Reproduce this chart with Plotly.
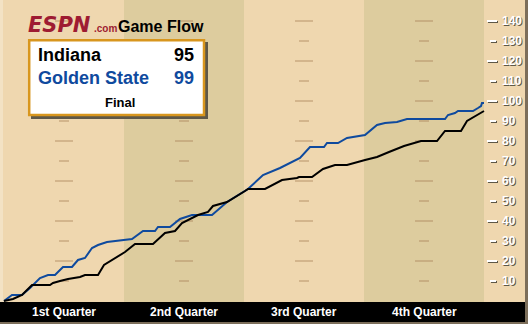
import plotly.graph_objects as go

# ---------------- data ----------------
quarters = ["1st Quarter", "2nd Quarter", "3rd Quarter", "4th Quarter"]
teams = ["Indiana", "Golden State"]
final_scores = [95, 99]
status = "Final"
y_ticks = [10, 20, 30, 40, 50, 60, 70, 80, 90, 100, 110, 120, 130, 140]

ind_min = [0, 0.9, 1.8, 2.8, 4.6, 4.9, 5.6, 6.4, 7.6, 8.1, 9.4, 10.0, 12.1, 13.1,
           14.9, 16.1, 17.1, 17.8, 19.4, 20.4, 20.9, 22.3, 24.1, 24.4, 26.1, 27.8,
           29.3, 29.5, 30.8, 31.9, 33.1, 34.3, 36.1, 37.3, 38.5, 40.0, 41.7, 43.3,
           44.1, 45.7, 46.3, 47.1, 48.0]
ind_pts = [0, 1, 3, 8, 8, 9, 10, 11, 12, 13, 13, 18, 24.5, 28.5,
           28.5, 34, 35, 39, 43, 44.5, 47.5, 49.5, 55, 56, 56, 60.5,
           61.5, 62, 62, 66, 68, 68, 70.5, 72, 74.5, 77.5, 80, 80,
           85, 85, 90, 92.5, 95]

gsw_min = [0, 0.8, 1.8, 2.6, 3.6, 4.4, 5.1, 5.9, 6.8, 7.4, 8.1, 8.8, 9.4, 10.3,
           12.8, 13.9, 15.1, 15.4, 16.6, 17.6, 18.8, 20.8, 22.3, 24.4, 25.9, 27.6,
           29.6, 30.6, 32.0, 32.3, 33.4, 34.3, 36.1, 37.3, 38.1, 39.3, 40.3, 44.1,
           44.4, 45.1, 45.4, 46.9, 47.4, 47.7, 47.8, 48.0]
gsw_pts = [0, 3, 3, 6.5, 11.5, 13, 13, 17, 17, 20.5, 21.5, 26.5, 28, 29.5,
           31, 35, 35, 37, 37, 41, 43, 43, 49.5, 56, 63, 66.5,
           71.5, 77, 77, 79, 79, 81.5, 83, 88, 89, 89.5, 91, 91,
           93, 94, 95, 95, 96.5, 97.5, 99, 99]

# ---------------- styling / geometry ----------------
W, H = 528, 324
LIGHT = "#EFD7AF"
DARK = "#DDCC9E"
TICKMARK = "rgba(165,125,85,0.38)"
BLUE = "#0F4A9E"
MAROON = "#9E1B32"
ORANGE = "#D8961E"
BORDER = "#7C6E5A"
SHADOW = "#5E5848"

X0_PX, PX_PER_MIN = 4, 10
Y0_PX, PX_PER_PT = 301, 2
x_range = [-X0_PX / PX_PER_MIN, (W - X0_PX) / PX_PER_MIN]
y_range = [-(H - Y0_PX) / PX_PER_PT, Y0_PX / PX_PER_PT]


def px(x):
    return x / W


def py(y):
    return 1 - y / H


FONT = "Liberation Sans, Arial, sans-serif"

fig = go.Figure()
fig.add_trace(go.Scatter(x=gsw_min, y=gsw_pts, mode="lines",
                         line=dict(color=BLUE, width=2), hoverinfo="skip",
                         name=teams[1]))
fig.add_trace(go.Scatter(x=ind_min, y=ind_pts, mode="lines",
                         line=dict(color="#000000", width=2), hoverinfo="skip",
                         name=teams[0]))

shapes = []
# darker quarter bands (2nd, 4th)
for q in range(4):
    if q % 2 == 1:
        shapes.append(dict(type="rect", xref="x", yref="paper",
                           x0=q * 12, x1=(q + 1) * 12, y0=py(302), y1=1,
                           fillcolor=DARK, line_width=0, layer="below"))
# thin lighter strip at left edge
shapes.append(dict(type="rect", xref="paper", yref="paper", x0=0, x1=px(3),
                   y0=py(302), y1=1, fillcolor="#F3E2C4", line_width=0, layer="below"))
# in-plot tick dashes at quarter centers
for q in range(4):
    cx = q * 12 + 6
    for v in y_ticks:
        half = 0.9 if v % 20 == 0 else 0.5
        shapes.append(dict(type="rect", xref="x", yref="y",
                           x0=cx - half, x1=cx + half, y0=v - 0.5, y1=v + 0.5,
                           fillcolor=TICKMARK, line_width=0, layer="below"))
# right axis dashes (shadow + white)
for v in y_ticks:
    x0, x1 = (487, 497) if v % 20 == 0 else (490, 496)
    shapes.append(dict(type="rect", xref="paper", yref="y",
                       x0=px(x0 + 1), x1=px(x1 + 1), y0=v - 1.0, y1=v,
                       fillcolor=SHADOW, line_width=0))
    shapes.append(dict(type="rect", xref="paper", yref="y",
                       x0=px(x0), x1=px(x1), y0=v - 0.5, y1=v + 0.5,
                       fillcolor="white", line_width=0))
# black bottom bar and frame
shapes.append(dict(type="rect", xref="paper", yref="paper", x0=0, x1=px(525),
                   y0=py(322), y1=py(302), fillcolor="#000000", line_width=0))
shapes.append(dict(type="rect", xref="paper", yref="paper", x0=px(525), x1=1,
                   y0=0, y1=1, fillcolor=BORDER, line_width=0))
shapes.append(dict(type="rect", xref="paper", yref="paper", x0=0, x1=1,
                   y0=0, y1=py(322), fillcolor=BORDER, line_width=0))
# score box shadow + box
shapes.append(dict(type="rect", xref="paper", yref="paper", x0=px(31), x1=px(208),
                   y0=py(119), y1=py(42), fillcolor=SHADOW, line_width=0))
shapes.append(dict(type="rect", xref="paper", yref="paper", x0=px(29.2), x1=px(204),
                   y0=py(115), y1=py(40.2), fillcolor="white",
                   line=dict(color=ORANGE, width=2.5)))

ann = []
# logo
ann.append(dict(text="ESPN", x=px(27), y=py(24.5), xanchor="left", yanchor="middle",
                font=dict(family="DejaVu Sans", size=21, color=MAROON, weight="bold",
                          style="italic")))
ann.append(dict(text=".com", x=px(93), y=py(28.5), xanchor="left", yanchor="middle",
                font=dict(family=FONT, size=10, color=MAROON, weight="bold")))
ann.append(dict(text="Game Flow", x=px(117), y=py(26.5), xanchor="left", yanchor="middle",
                font=dict(family=FONT, size=16, color="#000000", weight="bold")))
# score box texts
ann.append(dict(text=teams[0], x=px(37), y=py(55.5), xanchor="left", yanchor="middle",
                font=dict(family=FONT, size=18, color="#000000", weight="bold")))
ann.append(dict(text=str(final_scores[0]), x=px(195), y=py(55.5), xanchor="right",
                yanchor="middle",
                font=dict(family=FONT, size=18, color="#000000", weight="bold")))
ann.append(dict(text=teams[1], x=px(37), y=py(78), xanchor="left", yanchor="middle",
                font=dict(family=FONT, size=18, color=BLUE, weight="bold")))
ann.append(dict(text=str(final_scores[1]), x=px(195), y=py(78), xanchor="right",
                yanchor="middle",
                font=dict(family=FONT, size=18, color=BLUE, weight="bold")))
ann.append(dict(text=status, x=px(120), y=py(102), xanchor="center", yanchor="middle",
                font=dict(family=FONT, size=13, color="#000000", weight="bold")))
# quarter labels
for q, lab in enumerate(quarters):
    ann.append(dict(text=lab, x=q * 12 + 6, xref="x", y=py(312), yref="paper",
                    xanchor="center", yanchor="middle",
                    font=dict(family=FONT, size=12, color="white", weight="bold")))
# right axis labels
for v in y_ticks:
    ann.append(dict(text=str(v), x=px(501), xref="paper", y=v, yref="y",
                    xanchor="left", yanchor="middle",
                    font=dict(family=FONT, size=12, color="white", weight="bold",
                              shadow="1px 1px 0px " + SHADOW)))
for a in ann:
    a.setdefault("xref", "paper")
    a.setdefault("yref", "paper")
    a["showarrow"] = False
    a["borderpad"] = 0

fig.update_layout(
    width=W, height=H, margin=dict(l=0, r=0, t=0, b=0),
    paper_bgcolor=LIGHT, plot_bgcolor="rgba(0,0,0,0)",
    showlegend=False,
    xaxis=dict(range=x_range, visible=False, fixedrange=True),
    yaxis=dict(range=y_range, visible=False, fixedrange=True),
    shapes=shapes, annotations=ann,
)
fig.write_html("out.html", config={"displayModeBar": False})
